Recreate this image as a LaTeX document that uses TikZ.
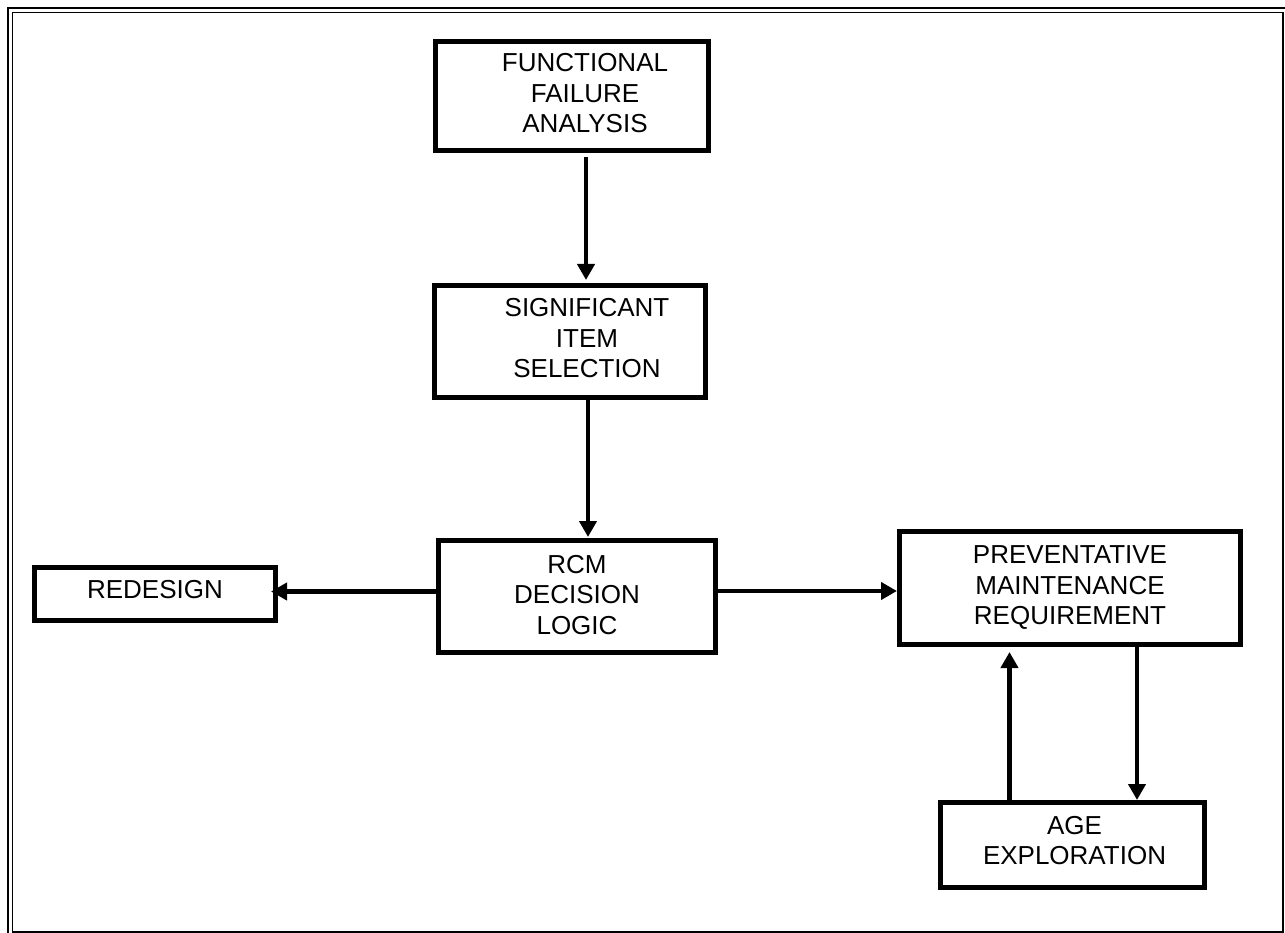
\documentclass[tikz,border=0pt]{standalone}
\usepackage{fontspec}
\setmainfont{Liberation Sans}
\usetikzlibrary{arrows.meta}
\begin{document}
\begin{tikzpicture}[x=1pt,y=-1pt,
  box/.style={draw,line width=5pt,inner sep=0pt},
  txt/.style={inner sep=0pt,align=center,font=\fontsize{26}{30.5}\selectfont},
  arr/.style={line width=4.8pt,-{Triangle[length=16pt,width=17pt]}}]
\useasboundingbox (0,0) rectangle (1285,933);
\clip (0,0) rectangle (1285,933);
% double page border
\draw[line width=2pt] (8,8) rectangle (1300,950);
\draw[line width=1.6pt] (12.5,12.5) rectangle (1283,932);

% process boxes
\node[box,minimum width=273pt,minimum height=109pt] (ffa) at (572,96) {};
\node[box,minimum width=271pt,minimum height=112pt] (sis) at (570,341.5) {};
\node[box,minimum width=277pt,minimum height=112pt] (rcm) at (577,596.5) {};
\node[box,minimum width=241pt,minimum height=53pt] (red) at (155,594) {};
\node[box,minimum width=341pt,minimum height=113pt] (pmr) at (1070,588) {};
\node[box,minimum width=264pt,minimum height=85pt] (age) at (1072.5,845) {};

% box captions
\node[txt] (ffa-t) at ([xshift=13pt,yshift=2.5pt]ffa.center) {FUNCTIONAL\\FAILURE\\ANALYSIS};
\node[txt] (sis-t) at ([xshift=17pt,yshift=3pt]sis.center) {SIGNIFICANT\\ITEM\\SELECTION};
\node[txt] (rcm-t) at ([yshift=1.5pt]rcm.center) {RCM\\DECISION\\LOGIC};
\node[txt] (red-t) at ([yshift=4pt]red.center) {REDESIGN};
\node[txt] (pmr-t) at (pmr.center) {PREVENTATIVE\\MAINTENANCE\\REQUIREMENT};
\node[txt] (age-t) at ([xshift=2pt,yshift=4.5pt]age.center) {AGE\\EXPLORATION};

% connectors
\draw[arr,shorten <=4pt,shorten >=3pt] ([xshift=14pt]ffa.south) -- ([xshift=14pt]ffa.south |- sis.north);
\draw[arr,shorten >=1pt] ([xshift=18pt]sis.south) -- ([xshift=18pt]sis.south |- rcm.north);
\draw[arr,shorten >=-7pt] ([yshift=5pt]rcm.west) -- ([yshift=5pt]rcm.west -| red.east);
\draw[arr] ([yshift=5.5pt]rcm.east) -- ([yshift=5.5pt]rcm.east -| pmr.west);
\draw[arr,shorten >=5pt] ([xshift=-63pt]age.north) -- ([xshift=-63pt]age.north |- pmr.south);
\draw[arr] ([xshift=67pt]pmr.south) -- ([xshift=67pt]pmr.south |- age.north);
\end{tikzpicture}
\end{document}
